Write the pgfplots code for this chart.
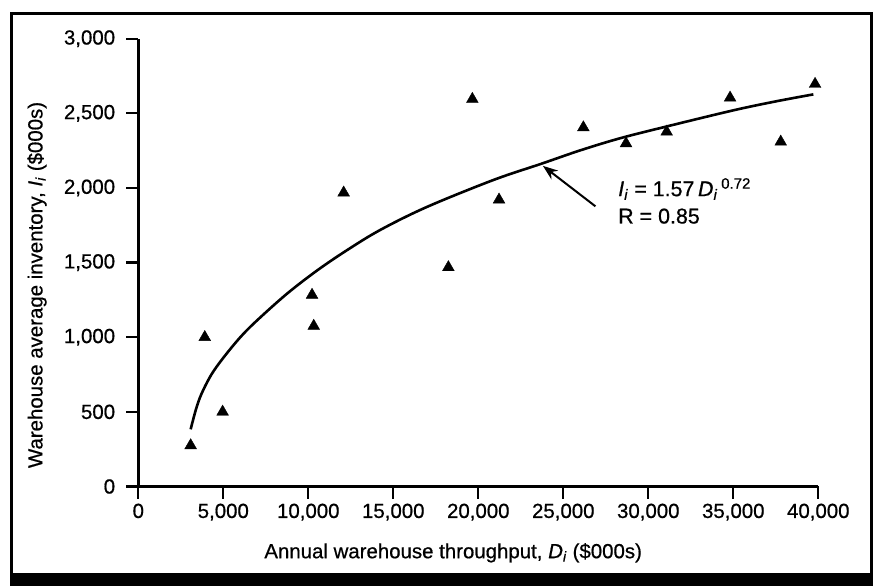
\documentclass[border=0pt]{standalone}
\usepackage{fontspec}
\setmainfont{Liberation Sans}[FakeBold=0.7, ItalicFeatures={FakeBold=0.7}]
\usepackage{pgfplots}
\pgfplotsset{compat=1.18}
\usetikzlibrary{arrows.meta}
\begin{document}
\begin{tikzpicture}
\path[use as bounding box] (0,0) rectangle (875bp,586bp);
% frame
\draw[line width=3bp] (11bp,13bp) -- (11bp,572bp) -- (871.5bp,572bp) -- (871.5bp,13bp);
\fill[black] (9.5bp,0bp) rectangle (873bp,13bp);
\begin{axis}[
  at={(138.3bp,99.5bp)}, anchor=south west,
  width=680bp, height=447.8bp, scale only axis,
  xmin=0, xmax=40000, ymin=0, ymax=3000,
  axis x line*=bottom, axis y line*=left,
  axis line style={line width=2.6bp},
  xtick={0,5000,...,40000}, ytick={0,500,...,3000},
  scaled ticks=false,
  tick align=outside,
  major tick length=12bp,
  tick style={line width=2.2bp, black},
  /pgf/number format/.cd, 1000 sep={,}, assume math mode=true,
  /pgfplots/.cd,
  tick label style={font=\fontsize{20.5}{22}\selectfont},
  xticklabel style={inner sep=1bp, yshift=-4bp},
  yticklabel style={inner sep=1bp, xshift=-10bp},
  xlabel={Annual warehouse throughput, \textit{D}\textsubscript{\textit{i}} (\$000s)},
  ylabel={Warehouse average inventory, \textit{I}\textsubscript{\textit{i}} (\$000s)},
  label style={font=\fontsize{20.5}{22}\selectfont},
  xlabel style={at={(axis description cs:0.463,-0.148)}, anchor=center},
  ylabel style={at={(axis description cs:-0.149,0.45)}, anchor=center, rotate=0},
  clip=false,
]
\addplot[smooth, tension=0.55, line width=2.6bp, black] coordinates {
(3080,383) (3400,520) (3730,624) (4300,750) (5000,862) (6000,1000) (6960,1110)
(8730,1290) (10490,1445) (12260,1582) (14220,1718) (16960,1872)
(20880,2053) (23730,2163) (26000,2252) (28340,2333) (31080,2412)
(35000,2520) (37500,2580) (39710,2627)
};
\addplot[only marks, mark=triangle*, mark size=6.8bp, black] coordinates {
(3080,275) (3910,1000) (4960,500) (10220,1283) (10320,1075) (12080,1968)
(18240,1468) (19650,2595) (21220,1921) (26180,2405) (28690,2298)
(31080,2376) (34810,2604) (37790,2309) (39810,2696)
};
\draw[-{Stealth[length=15bp,width=11bp]}, line width=2bp] (axis cs:26890,1877) -- (axis cs:23800,2148);
\node[anchor=base west, font=\fontsize{21.5}{22}\selectfont, inner sep=0pt] at (axis cs:28220,1945)
  {\textit{I}\textsubscript{\textit{i}} = 1.57\,\textit{D}\textsubscript{\textit{i}}\,\textsuperscript{0.72}};
\node[anchor=base west, font=\fontsize{21.5}{22}\selectfont, inner sep=0pt] at (axis cs:28220,1762)
  {R = 0.85};
\end{axis}
\end{tikzpicture}
\end{document}
